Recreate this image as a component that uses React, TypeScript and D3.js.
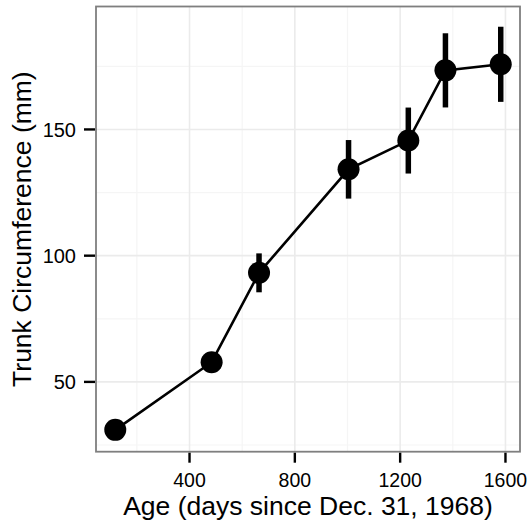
import React from "react";
import * as d3 from "d3";

const ages = [118, 484, 664, 1004, 1231, 1372, 1582];
const meanCirc = [31.0, 57.8, 93.2, 134.2, 145.6, 173.4, 175.8];
const seCirc = [0.63, 3.65, 7.71, 11.6, 13.07, 14.69, 14.88];
const xTicks = [400, 800, 1200, 1600];
const xMinor = [200, 600, 1000, 1400];
const yTicks = [50, 100, 150];
const yMinor = [25, 75, 125, 175];

const W = 530, H = 522;
const L = 96, R = 520, T = 6.5, B = 451.7;
const FONT = "'Liberation Sans', Arial, Helvetica, sans-serif";

export default function App() {
  const lo = d3.min(meanCirc.map((m, i) => m - seCirc[i]))!;
  const hi = d3.max(meanCirc.map((m, i) => m + seCirc[i]))!;
  const yPad = (hi - lo) * 0.05;
  const xLo = d3.min(ages)!, xHi = d3.max(ages)!;
  const xPad = (xHi - xLo) * 0.05;
  const x = d3.scaleLinear().domain([xLo - xPad, xHi + xPad]).range([L, R]);
  const y = d3.scaleLinear().domain([lo - yPad, hi + yPad]).range([B, T]);
  const line = d3.line<number>().x((_, i) => x(ages[i])).y((d) => y(d));

  return (
    <svg width={W} height={H} style={{ position: "absolute", left: 0, top: 0, background: "#fff" }}>
      <rect x={L} y={T} width={R - L} height={B - T} fill="#fff" />
      {xMinor.map((v) => (
        <line key={"xm" + v} x1={x(v)} x2={x(v)} y1={T} y2={B} stroke="#f5f5f5" strokeWidth={1.2} />
      ))}
      {yMinor.map((v) => (
        <line key={"ym" + v} y1={y(v)} y2={y(v)} x1={L} x2={R} stroke="#f5f5f5" strokeWidth={1.2} />
      ))}
      {xTicks.map((v) => (
        <line key={"xg" + v} x1={x(v)} x2={x(v)} y1={T} y2={B} stroke="#ebebeb" strokeWidth={1.6} />
      ))}
      {yTicks.map((v) => (
        <line key={"yg" + v} y1={y(v)} y2={y(v)} x1={L} x2={R} stroke="#ebebeb" strokeWidth={1.6} />
      ))}
      <path d={line(meanCirc)!} fill="none" stroke="#000" strokeWidth={2.6} />
      {ages.map((a, i) => (
        <line key={"e" + a} x1={x(a)} x2={x(a)} y1={y(meanCirc[i] - seCirc[i])} y2={y(meanCirc[i] + seCirc[i])} stroke="#000" strokeWidth={5.5} />
      ))}
      {ages.map((a, i) => (
        <circle key={"p" + a} cx={x(a)} cy={y(meanCirc[i])} r={11} fill="#000" />
      ))}
      <rect x={L} y={T} width={R - L} height={B - T} fill="none" stroke="#7f7f7f" strokeWidth={1.8} />
      {xTicks.map((v) => (
        <g key={"xt" + v}>
          <line x1={x(v)} x2={x(v)} y1={B + 1} y2={B + 11} stroke="#000" strokeWidth={2.4} />
          <text x={x(v)} y={486.5} textAnchor="middle" fontFamily={FONT} fontSize={19.5} fill="#000">{v}</text>
        </g>
      ))}
      {yTicks.map((v) => (
        <g key={"yt" + v}>
          <line x1={L - 12} x2={L - 1} y1={y(v)} y2={y(v)} stroke="#000" strokeWidth={2.4} />
          <text x={76} y={y(v) + 7.5} textAnchor="end" fontFamily={FONT} fontSize={20} fill="#000">{v}</text>
        </g>
      ))}
      <text x={(L + R) / 2} y={515} textAnchor="middle" fontFamily={FONT} fontSize={26.5} fill="#000">
        Age (days since Dec. 31, 1968)
      </text>
      <text transform={`translate(31,${(T + B) / 2}) rotate(-90)`} textAnchor="middle" fontFamily={FONT} fontSize={26.5} fill="#000">
        Trunk Circumference (mm)
      </text>
    </svg>
  );
}
